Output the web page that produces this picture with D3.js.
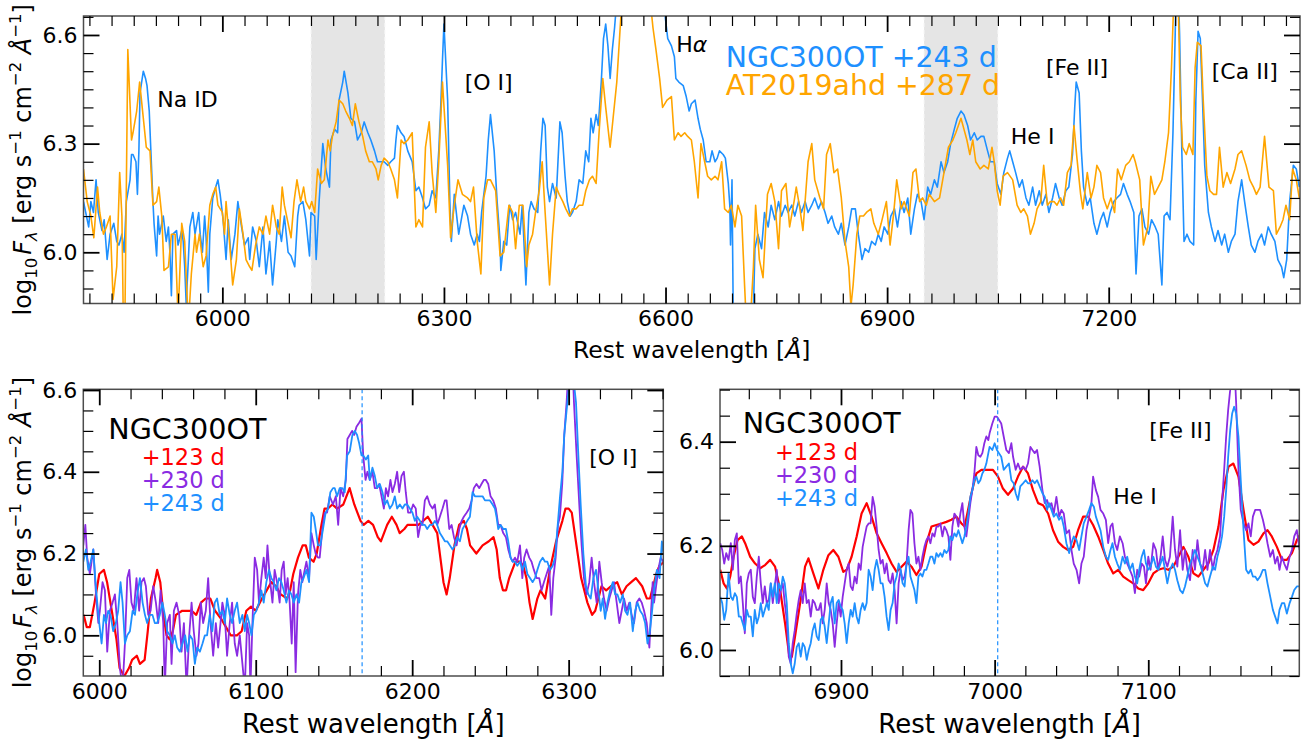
<!DOCTYPE html>
<html>
<head>
<meta charset="utf-8">
<script src="https://cdn.jsdelivr.net/npm/d3@7"></script>
<style>
  body { margin: 0; background: #fff; }
  svg { display: block; font-family: "DejaVu Sans", sans-serif; }
</style>
</head>
<body>
<div id="chart"></div>
<script>
// ---- top panel: NGC300OT vs AT2019ahd, [wavelength (A), log10 flux] ----
const ngcTop243 = [[5812,6.14],[5819,6.07],[5822,6.14],[5825.5,6.11],[5829,6.20],[5832,6.11],[5837,6.06],[5840,6.09],[5844,5.98],[5848,6.05],[5853,6.08],[5857,6.03],[5860,6.02],[5864,6.05],[5867,6.00],[5870,6.14],[5875,6.20],[5877,6.27],[5879,6.27],[5883,6.25],[5885,6.16],[5887,6.28],[5888.5,6.44],[5893,6.50],[5896,6.48],[5898,6.46],[5901,6.39],[5903,6.29],[5906,6.14],[5907.5,6.08],[5911,5.99],[5913,6.10],[5915,6.05],[5920,6.10],[5924,6.03],[5927,6.07],[5929,6.00],[5931,5.88],[5933,6.05],[5938,6.06],[5940,6.02],[5945,6.06],[5947,6.03],[5949,5.96],[5951,5.86],[5954,5.98],[5956,6.07],[5960,6.11],[5963,6.05],[5968,6.11],[5970,6.05],[5973,6.00],[5976,6.10],[5978,6.04],[5981,5.89],[5983,6.05],[5987,6.15],[5991,6.18],[5994,6.20],[5997,6.16],[6001,6.09],[6005,5.98],[6008,6.09],[6012,5.98],[6017,6.05],[6021,6.14],[6026,6.07],[6030,6.02],[6035,6.04],[6037,5.98],[6041,6.07],[6046,6.03],[6050,5.96],[6055,6.07],[6059,5.94],[6064,6.03],[6068,5.91],[6073,6.03],[6075,6.09],[6080,6.03],[6084,6.10],[6089,6.00],[6093,5.99],[6098,5.96],[6102,6.10],[6104,6.13],[6109,6.14],[6113,6.09],[6118,5.99],[6120,6.11],[6125,6.10],[6127,5.98],[6131,6.14],[6136,6.30],[6140,6.23],[6145,6.18],[6147,6.31],[6152,6.34],[6156,6.33],[6158,6.42],[6163,6.47],[6165,6.50],[6170,6.44],[6174,6.37],[6179,6.36],[6183,6.31],[6188,6.33],[6192,6.36],[6197,6.33],[6201,6.31],[6206,6.28],[6210,6.25],[6215,6.25],[6219,6.25],[6224,6.24],[6228,6.25],[6233,6.26],[6235,6.31],[6237,6.35],[6242,6.33],[6246,6.32],[6251,6.28],[6255,6.26],[6257,6.25],[6262,6.17],[6266,6.18],[6271,6.15],[6275,6.12],[6280,6.13],[6284,6.17],[6289,6.15],[6293,6.28],[6296,6.42],[6298,6.53],[6300,6.63],[6305,6.42],[6308,6.14],[6310,6.03],[6314,6.16],[6320,6.05],[6327,6.13],[6332,6.10],[6336,6.05],[6341,6.02],[6345,6.05],[6348,6.03],[6351,6.11],[6357,6.21],[6360,6.31],[6363,6.38],[6368,6.28],[6372,6.14],[6376,6.03],[6377,5.95],[6381,6.03],[6385,6.02],[6389,6.13],[6393,6.09],[6397,6.11],[6403,6.05],[6406,6.13],[6411,5.91],[6415,6.11],[6418,6.14],[6422,6.12],[6427,6.11],[6431,6.28],[6434,6.37],[6437,6.35],[6440,6.18],[6443,6.14],[6447,6.19],[6452,6.15],[6457,6.36],[6460,6.33],[6464,6.21],[6467,6.14],[6471,6.10],[6474,6.11],[6479,6.14],[6483,6.20],[6488,6.19],[6492,6.28],[6496,6.25],[6499,6.37],[6502,6.33],[6506,6.38],[6509,6.35],[6513,6.47],[6516,6.59],[6519,6.63],[6522,6.57],[6525,6.48],[6528,6.56],[6531,6.62],[6535,6.72],[6545,6.9],[6555,7.1],[6565,7.25],[6575,7.1],[6585,6.9],[6595,6.72],[6599,6.66],[6603,6.59],[6608,6.57],[6612,6.54],[6614,6.48],[6618,6.47],[6624,6.46],[6628,6.43],[6632,6.39],[6635,6.41],[6640,6.42],[6644,6.37],[6647,6.34],[6651,6.31],[6655,6.25],[6660,6.25],[6663,6.28],[6667,6.25],[6670,6.26],[6673,6.28],[6678,6.27],[6681,6.26],[6685,6.19],[6687,6.13],[6688,6.02],[6690,6.20],[6692,5.75],[6718,5.75],[6721,6.01],[6725,6.05],[6730,6.01],[6734,6.11],[6739,6.07],[6743,6.13],[6748,6.09],[6753,6.14],[6757,6.10],[6762,6.13],[6766,6.11],[6771,6.13],[6775,6.10],[6780,6.14],[6784,6.11],[6789,6.14],[6793,6.11],[6798,6.13],[6802,6.15],[6807,6.12],[6811,6.14],[6816,6.11],[6820,6.08],[6825,6.10],[6829,6.07],[6834,6.05],[6838,6.08],[6843,6.02],[6848,6.07],[6852,6.12],[6857,6.12],[6861,6.05],[6866,5.98],[6870,6.01],[6875,6.00],[6879,6.03],[6884,6.02],[6888,6.05],[6892,6.03],[6896,6.07],[6901,6.05],[6905,6.10],[6910,6.12],[6914,6.07],[6919,6.14],[6923,6.11],[6928,6.15],[6932,6.05],[6937,6.12],[6941,6.16],[6946,6.14],[6950,6.09],[6955,6.18],[6959,6.16],[6964,6.20],[6968,6.18],[6973,6.25],[6977,6.22],[6982,6.25],[6986,6.30],[6991,6.34],[6995,6.37],[7000,6.39],[7004,6.38],[7009,6.35],[7013,6.31],[7018,6.33],[7022,6.31],[7027,6.32],[7031,6.32],[7036,6.28],[7040,6.25],[7045,6.25],[7049,6.19],[7054,6.16],[7058,6.22],[7063,6.26],[7066,6.28],[7070,6.25],[7074,6.22],[7079,6.18],[7083,6.20],[7088,6.15],[7092,6.13],[7097,6.18],[7101,6.13],[7106,6.17],[7110,6.13],[7115,6.16],[7119,6.11],[7124,6.15],[7128,6.19],[7133,6.15],[7137,6.13],[7142,6.17],[7146,6.18],[7151,6.27],[7154,6.40],[7156,6.47],[7160,6.44],[7163,6.28],[7166,6.18],[7171,6.13],[7175,6.15],[7180,6.08],[7184,6.05],[7189,6.09],[7193,6.11],[7198,6.07],[7202,6.11],[7207,6.14],[7211,6.15],[7216,6.16],[7220,6.19],[7225,6.16],[7229,6.14],[7234,6.11],[7237,5.94],[7241,6.10],[7245,6.12],[7249,6.07],[7254,6.05],[7258,6.09],[7263,6.07],[7267,6.05],[7272,5.91],[7275,6.10],[7279,6.11],[7283,6.09],[7287,6.33],[7290,6.60],[7292,6.80],[7294,6.75],[7296,6.60],[7299,6.28],[7302,6.03],[7306,6.05],[7310,6.03],[7315,6.02],[7318,6.42],[7321,6.61],[7324,6.59],[7327,6.42],[7330,6.24],[7335,6.11],[7339,6.07],[7344,6.03],[7348,6.06],[7353,6.02],[7357,6.05],[7362,6.00],[7366,6.03],[7371,6.05],[7375,6.14],[7380,6.20],[7384,6.14],[7389,6.07],[7393,6.02],[7398,6.00],[7402,6.03],[7407,6.05],[7411,6.02],[7416,6.07],[7420,6.05],[7425,6.03],[7429,5.98],[7434,5.96],[7437,5.93],[7441,5.98],[7445,6.14],[7450,6.24],[7454,6.23],[7458,6.18]];

const atTop287 = [[5812,6.23],[5817,6.14],[5822,6.10],[5826,6.04],[5831,6.18],[5834,6.11],[5839,6.05],[5843,6.07],[5848,6.10],[5852,5.87],[5857,5.96],[5861,6.22],[5864,6.10],[5866,5.80],[5868,5.80],[5872,6.56],[5877,6.31],[5879,6.33],[5884,6.39],[5888,6.47],[5893,6.37],[5897,6.29],[5902,6.28],[5906,6.13],[5911,6.14],[5914,6.18],[5918,6.10],[5921,5.95],[5927,5.96],[5931,6.05],[5936,6.05],[5940,5.82],[5945,6.08],[5949,6.03],[5954,5.80],[5958,5.94],[5963,6.05],[5965,6.00],[5969,6.05],[5974,5.96],[5978,5.99],[5983,6.13],[5987,6.16],[5991,6.18],[5994,6.13],[6000,6.11],[6003,6.05],[6005,6.14],[6010,6.02],[6014,5.91],[6019,5.98],[6023,6.12],[6028,6.05],[6032,5.98],[6037,5.96],[6040,5.95],[6045,6.02],[6050,6.07],[6055,6.05],[6059,6.10],[6064,6.05],[6068,6.13],[6073,6.07],[6077,6.05],[6081,6.18],[6084,6.13],[6089,6.08],[6093,6.04],[6097,6.14],[6101,6.20],[6106,6.14],[6110,6.18],[6113,6.14],[6118,6.12],[6121,6.14],[6125,6.11],[6129,6.23],[6134,6.19],[6138,6.20],[6143,6.31],[6146,6.28],[6149,6.32],[6154,6.36],[6158,6.42],[6163,6.41],[6167,6.39],[6172,6.37],[6176,6.35],[6180,6.41],[6185,6.36],[6190,6.32],[6194,6.28],[6199,6.25],[6203,6.25],[6208,6.23],[6211,6.20],[6215,6.24],[6219,6.26],[6224,6.25],[6228,6.23],[6233,6.20],[6237,6.15],[6242,6.31],[6246,6.30],[6251,6.31],[6257,6.33],[6262,6.07],[6266,6.09],[6271,6.07],[6275,6.29],[6280,6.36],[6284,6.22],[6289,6.11],[6293,6.25],[6298,6.47],[6305,6.24],[6309,6.04],[6314,6.13],[6319,6.20],[6325,6.16],[6332,6.15],[6336,6.14],[6340,6.18],[6345,6.03],[6350,5.94],[6354,6.15],[6359,6.20],[6363,6.20],[6370,6.17],[6376,5.99],[6381,6.00],[6388,6.13],[6393,6.11],[6397,6.01],[6402,6.13],[6407,6.13],[6412,5.96],[6415,6.02],[6420,6.05],[6424,6.11],[6429,6.17],[6433,6.25],[6437,6.11],[6443,5.91],[6447,6.05],[6452,6.18],[6456,6.16],[6461,6.14],[6465,6.12],[6470,6.10],[6474,6.12],[6479,6.12],[6483,6.13],[6488,6.13],[6492,6.17],[6497,6.20],[6501,6.21],[6506,6.19],[6510,6.33],[6515,6.48],[6519,6.40],[6525,6.29],[6529,6.37],[6534,6.47],[6538,6.60],[6541,6.70],[6550,6.85],[6560,7.0],[6570,6.9],[6579,6.70],[6583,6.62],[6587,6.56],[6592,6.48],[6596,6.40],[6602,6.42],[6608,6.43],[6612,6.31],[6617,6.33],[6621,6.32],[6626,6.33],[6630,6.32],[6635,6.31],[6639,6.25],[6644,6.15],[6648,6.30],[6653,6.25],[6657,6.21],[6662,6.20],[6667,6.21],[6671,6.20],[6676,6.25],[6680,6.12],[6685,6.11],[6689,6.13],[6694,6.07],[6698,6.13],[6703,6.10],[6707,5.91],[6710,5.78],[6714,5.78],[6719,5.96],[6722,6.13],[6727,5.98],[6732,5.93],[6738,6.16],[6743,6.19],[6748,6.14],[6753,6.01],[6757,6.17],[6763,6.19],[6768,6.07],[6774,6.14],[6777,6.18],[6782,6.12],[6786,6.06],[6793,6.25],[6798,6.30],[6802,6.20],[6809,6.15],[6814,6.12],[6818,6.27],[6823,6.30],[6828,6.22],[6833,6.23],[6838,6.15],[6843,6.03],[6848,5.96],[6851,5.85],[6854,5.91],[6859,6.05],[6863,6.10],[6868,6.10],[6872,6.11],[6878,6.12],[6882,6.08],[6888,6.05],[6892,6.08],[6899,6.14],[6904,6.02],[6909,6.11],[6913,6.20],[6919,6.12],[6923,6.14],[6930,6.10],[6935,6.22],[6939,6.23],[6944,6.14],[6948,6.15],[6953,6.13],[6957,6.16],[6964,6.14],[6971,6.15],[6977,6.22],[6983,6.29],[6989,6.31],[6993,6.33],[7000,6.37],[7004,6.34],[7008,6.31],[7012,6.27],[7016,6.31],[7020,6.25],[7026,6.23],[7031,6.24],[7037,6.23],[7042,6.29],[7045,6.25],[7049,6.17],[7053,6.13],[7057,6.21],[7063,6.22],[7070,6.20],[7076,6.13],[7081,6.11],[7085,6.12],[7090,6.10],[7094,6.05],[7099,6.08],[7103,6.12],[7108,6.14],[7112,6.24],[7117,6.13],[7121,6.14],[7126,6.14],[7130,6.13],[7135,6.15],[7139,6.13],[7144,6.22],[7149,6.24],[7153,6.35],[7157,6.26],[7162,6.16],[7165,6.12],[7171,6.22],[7176,6.15],[7180,6.18],[7184,6.24],[7189,6.22],[7193,6.15],[7198,6.12],[7203,6.15],[7208,6.11],[7212,6.23],[7217,6.20],[7223,6.24],[7228,6.25],[7233,6.27],[7236,6.25],[7242,6.20],[7247,6.02],[7253,6.07],[7257,6.21],[7262,6.16],[7267,6.18],[7272,6.20],[7276,6.25],[7281,6.33],[7285,6.51],[7289,6.75],[7293,6.80],[7297,6.42],[7300,6.29],[7305,6.27],[7309,6.30],[7314,6.27],[7317,6.51],[7320,6.58],[7325,6.57],[7328,6.42],[7333,6.21],[7337,6.17],[7342,6.16],[7346,6.16],[7350,6.29],[7355,6.18],[7360,6.22],[7365,6.19],[7371,6.23],[7375,6.27],[7380,6.28],[7386,6.24],[7391,6.20],[7396,6.18],[7400,6.16],[7405,6.18],[7411,6.32],[7417,6.18],[7423,6.17],[7427,6.05],[7432,6.07],[7436,6.09],[7440,6.13],[7445,6.09],[7449,6.23],[7454,6.20],[7458,6.15]];

// ---- bottom-left panel ([O I] region), NGC300OT epochs ----
const oiRed123 = [[5990,6.05],[5992,6.02],[5994,6.02],[5997,6.08],[6000,6.15],[6003,6.16],[6005,6.13],[6008,6.06],[6011,5.99],[6013,5.92],[6016,5.90],[6019,5.92],[6021,5.94],[6024,5.95],[6026,5.93],[6029,5.94],[6031,6.01],[6033,6.09],[6036,6.14],[6037,6.16],[6039,6.13],[6041,6.05],[6043,6.00],[6045,5.99],[6047,6.01],[6049,6.05],[6053,6.06],[6056,6.06],[6059,6.06],[6062,6.05],[6065,6.08],[6068,6.09],[6071,6.09],[6074,6.06],[6078,6.04],[6081,6.02],[6084,6.00],[6088,6.00],[6091,6.01],[6094,6.06],[6097,6.07],[6100,6.06],[6104,6.09],[6107,6.11],[6110,6.13],[6113,6.12],[6116,6.10],[6120,6.09],[6122,6.11],[6124,6.15],[6127,6.19],[6130,6.22],[6132,6.22],[6134,6.19],[6137,6.18],[6139,6.20],[6142,6.27],[6144,6.31],[6146,6.31],[6149,6.32],[6152,6.31],[6156,6.32],[6160,6.36],[6163,6.32],[6167,6.28],[6169,6.27],[6172,6.28],[6175,6.27],[6178,6.24],[6180,6.23],[6184,6.27],[6187,6.29],[6190,6.27],[6192,6.25],[6195,6.26],[6197,6.27],[6201,6.27],[6204,6.27],[6207,6.28],[6210,6.29],[6213,6.27],[6216,6.25],[6218,6.19],[6220,6.13],[6222,6.10],[6224,6.14],[6227,6.22],[6230,6.27],[6233,6.28],[6235,6.26],[6237,6.22],[6241,6.20],[6245,6.22],[6249,6.23],[6252,6.24],[6254,6.21],[6256,6.14],[6258,6.11],[6260,6.11],[6262,6.14],[6266,6.18],[6269,6.18],[6271,6.17],[6273,6.14],[6275,6.08],[6277,6.04],[6280,6.09],[6282,6.11],[6285,6.09],[6288,6.16],[6292,6.23],[6296,6.28],[6298,6.31],[6300,6.31],[6302,6.30],[6305,6.22],[6308,6.14],[6312,6.08],[6315,6.05],[6317,6.06],[6319,6.09],[6321,6.12],[6324,6.11],[6327,6.12],[6331,6.13],[6334,6.10],[6337,6.12],[6340,6.13],[6343,6.14],[6347,6.12],[6350,6.09],[6352,6.09],[6354,6.12],[6356,6.15],[6358,6.17],[6361,6.18]];

const oiPurple230 = [[5989.8,6.22],[5991.1,6.27],[5992.3,6.19],[5994.0,6.15],[5996.2,6.21],[5997.9,6.10],[5999.4,6.03],[6000.4,6.06],[6002.1,6.13],[6003.6,6.11],[6005.1,5.96],[6006.8,6.06],[6008.5,6.08],[6010.0,6.10],[6011.5,6.03],[6013.2,5.92],[6014.9,5.87],[6016.4,5.98],[6017.9,6.14],[6019.2,6.16],[6020.6,6.08],[6022.1,6.06],[6023.8,6.14],[6025.5,6.06],[6027.0,6.13],[6028.5,6.14],[6029.8,6.12],[6031.3,6.05],[6032.8,6.06],[6034.5,6.12],[6036.2,6.08],[6037.7,6.03],[6039.2,6.11],[6040.9,6.03],[6041.9,5.87],[6043.4,6.03],[6045.1,6.05],[6046.2,5.93],[6047.7,6.06],[6049.4,6.08],[6051.1,6.05],[6052.6,5.96],[6054.1,6.03],[6055.8,5.87],[6057.5,6.00],[6059.0,6.08],[6060.4,6.01],[6062.1,5.95],[6063.4,5.98],[6064.9,6.08],[6066.4,6.03],[6068.1,6.06],[6069.6,6.14],[6071.1,6.03],[6072.8,5.95],[6074.5,6.03],[6076.0,5.97],[6077.5,6.03],[6078.7,6.08],[6080.2,6.05],[6081.7,5.95],[6083.4,6.03],[6084.9,6.08],[6086.6,5.98],[6088.1,5.95],[6089.8,6.00],[6091.5,5.93],[6093.0,5.87],[6094.5,6.03],[6095.8,6.00],[6096.6,5.87],[6097.9,6.03],[6099.4,6.19],[6100.9,6.16],[6102.1,6.08],[6103.6,6.14],[6105.1,6.19],[6106.4,6.14],[6107.5,6.22],[6109.0,6.14],[6110.7,6.08],[6112.1,6.16],[6113.6,6.13],[6115.3,6.08],[6116.6,6.16],[6117.9,6.18],[6119.1,6.10],[6120.4,6.14],[6121.7,6.08],[6123.0,5.98],[6124.3,6.13],[6125.5,5.91],[6127.0,6.10],[6128.5,6.16],[6129.8,6.13],[6131.3,6.16],[6132.4,6.18],[6134.1,6.14],[6135.6,6.25],[6137.1,6.22],[6138.3,6.20],[6139.8,6.19],[6140.9,6.19],[6142.6,6.26],[6144.1,6.30],[6145.6,6.30],[6147.3,6.34],[6149.4,6.32],[6151.2,6.34],[6152.7,6.27],[6154.2,6.36],[6155.9,6.34],[6157.6,6.38],[6158.6,6.48],[6160.1,6.49],[6161.6,6.50],[6162.9,6.49],[6164.4,6.51],[6166.1,6.52],[6167.6,6.53],[6168.7,6.44],[6170.2,6.38],[6171.4,6.40],[6172.9,6.38],[6174.6,6.40],[6176.1,6.36],[6177.6,6.36],[6178.9,6.37],[6180.4,6.34],[6181.9,6.31],[6183.2,6.36],[6184.6,6.34],[6186.1,6.38],[6187.4,6.35],[6188.9,6.37],[6190.4,6.40],[6191.7,6.35],[6193.2,6.39],[6194.7,6.40],[6195.9,6.35],[6197.4,6.30],[6198.9,6.30],[6200.6,6.32],[6202.3,6.31],[6203.8,6.24],[6205.3,6.27],[6206.6,6.27],[6208.1,6.33],[6209.6,6.34],[6211.3,6.32],[6213.0,6.31],[6214.5,6.32],[6216.0,6.27],[6217.7,6.29],[6219.4,6.31],[6220.9,6.33],[6222.0,6.33],[6223.7,6.26],[6225.2,6.27],[6226.7,6.24],[6228.4,6.22],[6230.1,6.26],[6231.6,6.28],[6233.0,6.29],[6234.8,6.30],[6236.5,6.31],[6238.0,6.33],[6239.4,6.36],[6241.1,6.37],[6242.9,6.36],[6244.3,6.37],[6245.8,6.38],[6247.1,6.38],[6248.6,6.37],[6250.1,6.34],[6251.8,6.33],[6253.5,6.31],[6255.0,6.27],[6256.5,6.27],[6258.2,6.25],[6259.9,6.24],[6261.4,6.21],[6262.9,6.19],[6264.2,6.18],[6265.7,6.19],[6267.2,6.18],[6268.9,6.22],[6270.4,6.14],[6271.6,6.19],[6273.1,6.21],[6274.8,6.19],[6276.3,6.18],[6277.8,6.16],[6279.5,6.14],[6281.2,6.14],[6282.7,6.11],[6284.2,6.13],[6285.9,6.15],[6287.6,6.17],[6288.9,6.05],[6290.2,6.14],[6291.7,6.19],[6293.2,6.27],[6294.4,6.29],[6295.9,6.37],[6297.2,6.49],[6298.7,6.57],[6300.0,6.66],[6301.3,6.70],[6302.5,6.66],[6303.4,6.57],[6305.1,6.44],[6306.8,6.32],[6308.3,6.22],[6309.8,6.14],[6311.5,6.10],[6313.2,6.13],[6314.7,6.19],[6316.2,6.13],[6317.9,6.08],[6319.6,6.18],[6321.1,6.13],[6322.6,6.09],[6324.3,6.06],[6326.0,6.09],[6327.5,6.11],[6329.0,6.13],[6330.7,6.08],[6332.4,6.03],[6333.9,6.06],[6335.4,6.09],[6337.1,6.06],[6338.8,6.08],[6340.3,6.05],[6341.8,6.03],[6343.5,6.08],[6345.2,6.09],[6346.7,6.08],[6348.2,6.06],[6349.9,6.03],[6351.6,5.97],[6352.7,6.06],[6353.7,6.13],[6354.6,6.08],[6355.9,6.12],[6357.3,6.16],[6358.8,6.19],[6360.5,6.18]];

const oiBlue243 = [[5989.8,6.18],[5991.5,6.21],[5993.0,6.16],[5994.5,6.18],[5996.2,6.21],[5997.4,6.14],[5998.7,6.08],[6000.0,6.03],[6001.5,5.98],[6003.0,6.05],[6004.3,6.03],[6005.7,6.06],[6007.2,6.05],[6008.9,6.01],[6010.6,6.03],[6012.1,6.06],[6013.6,6.13],[6014.9,6.08],[6016.4,5.98],[6017.9,6.00],[6019.6,6.01],[6021.3,6.06],[6022.8,6.05],[6024.3,6.10],[6026.0,6.14],[6027.7,6.08],[6029.2,6.05],[6030.6,6.03],[6032.3,6.05],[6034.0,6.05],[6035.5,6.03],[6037.0,6.03],[6038.7,6.05],[6040.4,6.08],[6041.9,6.05],[6043.4,6.01],[6045.1,6.00],[6046.8,5.98],[6048.3,6.00],[6049.8,5.97],[6051.5,5.96],[6053.2,5.98],[6054.9,6.00],[6056.4,5.96],[6057.9,6.00],[6059.6,5.99],[6061.1,5.93],[6062.6,5.97],[6064.3,5.96],[6066.0,5.98],[6067.5,6.00],[6068.9,6.00],[6070.6,6.05],[6072.3,6.01],[6073.8,6.08],[6075.3,6.09],[6077.0,6.05],[6078.7,6.06],[6080.2,6.03],[6081.7,6.09],[6083.4,6.05],[6084.9,6.03],[6086.6,6.06],[6088.1,6.08],[6089.8,6.03],[6091.5,6.05],[6093.0,6.01],[6094.5,6.05],[6095.8,6.03],[6097.3,6.00],[6098.8,6.05],[6100.4,6.06],[6102.1,6.08],[6103.6,6.11],[6105.1,6.08],[6106.8,6.13],[6108.5,6.16],[6110.0,6.14],[6111.5,6.13],[6113.2,6.11],[6114.9,6.14],[6116.4,6.13],[6117.9,6.11],[6119.6,6.08],[6121.3,6.11],[6122.8,6.10],[6124.3,6.08],[6126.0,6.10],[6127.7,6.08],[6129.2,6.13],[6130.6,6.14],[6132.4,6.16],[6134.1,6.13],[6135.6,6.30],[6137.1,6.29],[6138.3,6.26],[6139.8,6.22],[6141.3,6.22],[6143.0,6.26],[6144.7,6.30],[6146.2,6.31],[6147.7,6.35],[6149.4,6.36],[6150.5,6.36],[6152.0,6.34],[6153.7,6.36],[6155.4,6.36],[6156.9,6.35],[6158.4,6.44],[6160.1,6.45],[6161.8,6.49],[6163.3,6.50],[6164.8,6.49],[6166.1,6.47],[6167.6,6.44],[6168.7,6.44],[6170.4,6.43],[6171.9,6.44],[6172.9,6.38],[6174.6,6.41],[6176.1,6.39],[6177.6,6.36],[6179.3,6.37],[6181.0,6.35],[6182.5,6.32],[6184.0,6.33],[6185.7,6.31],[6187.4,6.32],[6188.9,6.34],[6190.4,6.31],[6192.1,6.32],[6193.8,6.31],[6195.3,6.32],[6196.8,6.32],[6198.5,6.31],[6200.2,6.30],[6201.7,6.28],[6203.2,6.29],[6204.9,6.28],[6206.6,6.27],[6208.1,6.27],[6209.6,6.26],[6211.3,6.27],[6213.0,6.27],[6214.5,6.28],[6216.0,6.27],[6217.7,6.25],[6219.4,6.24],[6220.9,6.23],[6222.4,6.23],[6224.1,6.22],[6225.8,6.21],[6227.3,6.22],[6228.8,6.24],[6230.5,6.23],[6232.2,6.26],[6233.7,6.27],[6235.2,6.28],[6236.9,6.29],[6238.6,6.35],[6240.1,6.34],[6241.6,6.34],[6243.3,6.34],[6245.0,6.34],[6246.5,6.33],[6248.0,6.33],[6249.7,6.33],[6251.4,6.32],[6252.9,6.31],[6253.9,6.29],[6255.0,6.26],[6256.5,6.27],[6258.2,6.26],[6259.9,6.26],[6261.4,6.23],[6262.9,6.19],[6264.2,6.18],[6265.7,6.18],[6267.2,6.17],[6268.9,6.18],[6270.6,6.16],[6272.1,6.18],[6273.6,6.15],[6275.3,6.14],[6277.0,6.13],[6278.5,6.14],[6280.0,6.16],[6281.7,6.18],[6283.4,6.19],[6284.9,6.18],[6286.4,6.18],[6288.1,6.16],[6289.8,6.17],[6291.3,6.19],[6292.8,6.26],[6294.5,6.34],[6296.0,6.40],[6297.2,6.49],[6298.7,6.55],[6300.0,6.60],[6301.3,6.66],[6303.0,6.63],[6304.7,6.57],[6306.2,6.44],[6307.7,6.32],[6309.4,6.20],[6311.1,6.12],[6312.6,6.10],[6314.1,6.09],[6315.8,6.14],[6317.5,6.16],[6319.0,6.11],[6320.5,6.06],[6321.8,6.09],[6323.3,6.04],[6324.8,6.08],[6326.5,6.11],[6328.2,6.13],[6329.7,6.10],[6331.2,6.10],[6332.9,6.08],[6334.6,6.10],[6336.1,6.06],[6337.6,6.05],[6339.3,6.08],[6341.0,6.01],[6342.5,6.06],[6344.0,6.08],[6345.7,6.06],[6347.4,6.05],[6348.9,6.03],[6350.4,5.98],[6351.6,6.00],[6353.1,6.05],[6354.6,6.11],[6356.4,6.16],[6358.1,6.14],[6359.6,6.23],[6360.6,6.20]];

// ---- bottom-right panel ([Fe II] / He I region) ----
const feRed123 = [[6821.4,6.154],[6823.6,6.128],[6825.7,6.118],[6827.9,6.141],[6830.1,6.179],[6832.7,6.211],[6835.5,6.218],[6837.6,6.205],[6840.9,6.179],[6844.1,6.166],[6847.4,6.157],[6850.6,6.163],[6853.9,6.173],[6857.1,6.160],[6860.4,6.115],[6863.6,6.051],[6866.4,5.987],[6868.0,5.987],[6870.1,6.026],[6873.4,6.090],[6876.6,6.160],[6878.8,6.176],[6882.0,6.147],[6885.3,6.118],[6888.5,6.154],[6891.8,6.182],[6895.0,6.192],[6898.3,6.179],[6901.5,6.150],[6903.7,6.154],[6906.9,6.179],[6910.2,6.218],[6913.4,6.262],[6916.7,6.282],[6919.9,6.256],[6923.2,6.224],[6926.4,6.205],[6929.7,6.186],[6932.9,6.166],[6936.2,6.150],[6939.4,6.160],[6942.7,6.170],[6945.9,6.160],[6949.1,6.144],[6952.4,6.160],[6955.6,6.205],[6958.9,6.237],[6962.1,6.240],[6965.4,6.243],[6968.6,6.246],[6971.9,6.250],[6975.1,6.256],[6978.4,6.243],[6980.5,6.237],[6982.7,6.269],[6984.9,6.301],[6988.1,6.339],[6991.4,6.346],[6996.8,6.346],[6998.9,6.346],[7002.2,6.333],[7005.4,6.310],[7008.7,6.298],[7012.0,6.310],[7015.2,6.333],[7018.5,6.352],[7021.7,6.339],[7025.0,6.307],[7028.3,6.282],[7031.5,6.278],[7034.8,6.262],[7038.0,6.230],[7041.3,6.208],[7044.6,6.198],[7047.8,6.192],[7051.1,6.198],[7054.3,6.230],[7057.6,6.256],[7060.9,6.256],[7064.1,6.240],[7067.4,6.218],[7070.7,6.192],[7073.9,6.166],[7077.2,6.147],[7080.4,6.154],[7083.7,6.141],[7087.0,6.134],[7090.2,6.128],[7093.5,6.118],[7096.7,6.115],[7100.0,6.128],[7103.3,6.147],[7106.5,6.154],[7109.8,6.157],[7113.0,6.154],[7116.3,6.160],[7119.6,6.179],[7122.8,6.198],[7126.1,6.179],[7129.4,6.147],[7132.6,6.141],[7135.9,6.154],[7139.1,6.166],[7142.4,6.192],[7145.7,6.237],[7148.9,6.307],[7152.2,6.352],[7155.4,6.358],[7158.7,6.333],[7162.0,6.269],[7165.2,6.211],[7168.5,6.202],[7171.7,6.208],[7175.0,6.224],[7177.6,6.230],[7180.4,6.218],[7183.7,6.198],[7187.0,6.173],[7190.2,6.173],[7193.5,6.186],[7196.7,6.211],[7198.5,6.22]];

const fePurple230 = [[6821.4,6.205],[6822.7,6.192],[6824.0,6.166],[6825.3,6.186],[6826.8,6.173],[6828.3,6.205],[6829.6,6.154],[6830.9,6.211],[6832.2,6.224],[6833.5,6.128],[6834.8,6.141],[6836.1,6.090],[6837.4,6.032],[6838.7,6.128],[6840.0,6.147],[6841.3,6.154],[6842.6,6.102],[6843.9,6.090],[6845.2,6.141],[6846.5,6.179],[6847.8,6.128],[6849.1,6.090],[6850.4,6.122],[6851.7,6.090],[6853.0,6.096],[6854.3,6.128],[6855.6,6.090],[6856.9,6.122],[6858.2,6.154],[6859.5,6.090],[6860.8,6.115],[6862.1,6.128],[6863.4,6.090],[6864.7,6.058],[6866.0,5.987],[6867.3,5.974],[6868.6,6.013],[6869.9,6.038],[6871.2,6.070],[6872.5,6.096],[6873.8,6.115],[6875.1,6.090],[6876.4,6.128],[6877.7,6.090],[6879.0,6.096],[6880.3,6.064],[6881.6,6.096],[6882.9,6.090],[6884.2,6.077],[6885.5,6.077],[6886.8,6.090],[6888.1,6.051],[6889.4,6.077],[6890.7,6.128],[6892.0,6.090],[6893.3,6.077],[6894.6,6.051],[6895.9,6.006],[6897.2,6.051],[6898.5,6.090],[6899.8,6.064],[6901.1,6.102],[6902.4,6.128],[6903.7,6.154],[6905.0,6.166],[6906.3,6.122],[6907.6,6.115],[6908.9,6.141],[6910.2,6.128],[6911.5,6.166],[6912.8,6.154],[6914.1,6.198],[6915.4,6.218],[6916.7,6.237],[6918.0,6.243],[6919.3,6.243],[6920.6,6.294],[6921.9,6.275],[6923.2,6.237],[6924.5,6.192],[6925.8,6.166],[6927.1,6.173],[6928.4,6.147],[6929.7,6.166],[6931.0,6.134],[6932.3,6.128],[6933.6,6.147],[6934.9,6.115],[6936.2,6.051],[6937.5,6.128],[6938.8,6.154],[6940.1,6.134],[6941.4,6.141],[6942.7,6.166],[6944.0,6.230],[6945.2,6.269],[6946.5,6.262],[6947.8,6.205],[6949.1,6.166],[6950.4,6.179],[6951.7,6.154],[6953.0,6.179],[6954.3,6.198],[6955.6,6.211],[6956.9,6.218],[6958.2,6.205],[6959.5,6.224],[6960.8,6.218],[6962.1,6.237],[6963.4,6.237],[6964.7,6.243],[6966.0,6.218],[6967.3,6.237],[6968.6,6.230],[6969.9,6.218],[6971.2,6.173],[6972.5,6.237],[6973.8,6.262],[6975.1,6.256],[6976.4,6.237],[6977.7,6.262],[6979.0,6.282],[6980.3,6.237],[6981.6,6.218],[6982.9,6.250],[6984.2,6.282],[6985.5,6.307],[6986.8,6.339],[6988.1,6.390],[6989.4,6.374],[6990.7,6.371],[6992.0,6.378],[6993.3,6.397],[6994.6,6.410],[6995.9,6.403],[6996.7,6.416],[6998.5,6.435],[7000.0,6.448],[7001.5,6.448],[7002.8,6.442],[7004.3,6.435],[7005.9,6.410],[7007.6,6.384],[7009.3,6.378],[7010.9,6.397],[7012.0,6.371],[7013.7,6.346],[7015.2,6.358],[7016.7,6.346],[7018.5,6.352],[7020.2,6.346],[7021.7,6.358],[7023.3,6.390],[7024.6,6.384],[7026.1,6.378],[7027.6,6.384],[7029.3,6.352],[7031.1,6.307],[7032.6,6.282],[7034.1,6.288],[7035.4,6.275],[7037.0,6.282],[7038.5,6.262],[7040.2,6.294],[7042.0,6.256],[7043.5,6.269],[7045.0,6.262],[7046.7,6.224],[7048.5,6.230],[7050.0,6.192],[7051.5,6.166],[7053.3,6.154],[7055.0,6.128],[7056.5,6.166],[7058.0,6.179],[7059.8,6.230],[7061.5,6.256],[7063.0,6.282],[7064.1,6.333],[7065.9,6.307],[7067.4,6.294],[7068.9,6.269],[7070.7,6.262],[7072.4,6.250],[7073.9,6.205],[7075.4,6.237],[7076.7,6.243],[7078.3,6.205],[7079.8,6.192],[7081.5,6.218],[7083.3,6.205],[7084.8,6.179],[7086.3,6.166],[7088.0,6.154],[7089.8,6.141],[7091.3,6.109],[7092.8,6.154],[7094.1,6.141],[7095.7,6.166],[7097.2,6.160],[7098.5,6.128],[7100.0,6.179],[7101.5,6.154],[7103.3,6.205],[7105.0,6.192],[7106.5,6.154],[7108.0,6.179],[7109.4,6.218],[7110.9,6.173],[7112.4,6.160],[7114.1,6.179],[7115.9,6.256],[7117.4,6.192],[7118.9,6.160],[7120.7,6.230],[7122.4,6.154],[7123.9,6.192],[7125.4,6.154],[7127.2,6.134],[7128.9,6.192],[7130.4,6.154],[7132.0,6.211],[7133.7,6.166],[7135.4,6.154],[7137.0,6.192],[7138.5,6.154],[7140.2,6.192],[7142.0,6.154],[7143.5,6.179],[7145.0,6.192],[7146.7,6.218],[7148.0,6.282],[7149.4,6.346],[7150.7,6.410],[7152.0,6.461],[7153.3,6.499],[7154.6,6.56],[7155.9,6.56],[7157.2,6.474],[7158.7,6.346],[7160.2,6.269],[7162.0,6.243],[7163.7,6.230],[7165.2,6.243],[7166.7,6.218],[7168.1,6.256],[7169.6,6.269],[7171.1,6.269],[7172.8,6.269],[7174.6,6.250],[7176.1,6.230],[7177.6,6.205],[7179.4,6.179],[7181.1,6.192],[7182.6,6.166],[7184.1,6.179],[7185.4,6.154],[7187.0,6.179],[7188.5,6.166],[7190.2,6.154],[7192.0,6.179],[7193.5,6.192],[7195.0,6.218],[7196.7,6.230],[7198.5,6.192]];

const feBlue243 = [[6821.4,6.102],[6822.7,6.090],[6824.0,6.058],[6825.3,6.077],[6826.8,6.147],[6828.3,6.102],[6829.6,6.096],[6830.9,6.109],[6832.2,6.102],[6833.5,6.064],[6834.8,6.064],[6836.1,6.051],[6837.4,6.038],[6838.7,6.077],[6840.0,6.064],[6841.3,6.064],[6842.6,6.026],[6843.9,6.077],[6845.2,6.051],[6846.5,6.064],[6847.8,6.090],[6849.1,6.064],[6850.4,6.077],[6851.7,6.090],[6853.0,6.077],[6854.3,6.128],[6855.6,6.102],[6856.9,6.128],[6858.2,6.090],[6859.5,6.128],[6860.8,6.115],[6862.1,6.141],[6863.4,6.128],[6864.7,6.090],[6866.0,6.013],[6867.3,5.974],[6868.6,5.955],[6869.9,5.974],[6871.2,6.006],[6872.5,6.013],[6873.8,5.987],[6875.1,6.013],[6876.4,6.006],[6877.7,5.981],[6879.0,6.000],[6880.3,6.013],[6881.6,6.038],[6882.9,6.051],[6884.2,6.026],[6885.5,6.019],[6886.8,6.058],[6888.1,6.064],[6889.4,6.045],[6890.7,6.013],[6892.0,6.051],[6893.3,6.090],[6894.6,6.102],[6895.9,6.051],[6897.2,6.090],[6898.5,6.096],[6899.8,6.083],[6901.1,6.077],[6902.4,6.051],[6903.7,6.013],[6905.0,6.051],[6906.3,6.077],[6907.6,6.064],[6908.9,6.090],[6910.2,6.064],[6911.5,6.051],[6912.8,6.077],[6914.1,6.090],[6915.4,6.077],[6916.7,6.090],[6918.0,6.154],[6919.3,6.141],[6920.6,6.115],[6921.9,6.154],[6923.2,6.173],[6924.5,6.154],[6925.8,6.128],[6927.1,6.128],[6928.4,6.102],[6929.7,6.064],[6931.0,6.038],[6932.3,6.077],[6933.6,6.090],[6934.9,6.128],[6936.2,6.141],[6937.5,6.166],[6938.8,6.154],[6940.1,6.128],[6941.4,6.122],[6942.7,6.166],[6944.0,6.179],[6945.2,6.141],[6946.5,6.128],[6947.8,6.115],[6949.1,6.090],[6950.4,6.141],[6951.7,6.147],[6953.0,6.141],[6954.3,6.154],[6955.6,6.154],[6956.9,6.166],[6958.2,6.179],[6959.5,6.179],[6960.8,6.166],[6962.1,6.186],[6963.4,6.179],[6964.7,6.186],[6966.0,6.179],[6967.3,6.192],[6968.6,6.186],[6969.9,6.192],[6971.2,6.218],[6972.5,6.211],[6973.8,6.224],[6975.1,6.218],[6976.4,6.230],[6977.7,6.218],[6979.0,6.205],[6980.3,6.218],[6981.6,6.237],[6982.9,6.262],[6984.2,6.294],[6985.5,6.307],[6986.8,6.326],[6988.1,6.333],[6989.4,6.320],[6990.7,6.326],[6992.0,6.339],[6993.3,6.346],[6994.6,6.358],[6995.9,6.378],[6996.7,6.390],[6998.5,6.384],[7000.0,6.397],[7001.5,6.384],[7002.8,6.378],[7004.3,6.371],[7005.9,6.346],[7007.6,6.352],[7009.3,6.358],[7010.9,6.326],[7012.4,6.320],[7013.7,6.301],[7015.2,6.288],[7016.7,6.314],[7018.5,6.320],[7020.2,6.326],[7021.7,6.320],[7023.3,6.320],[7024.6,6.326],[7026.1,6.320],[7027.6,6.326],[7029.3,6.314],[7031.1,6.301],[7032.6,6.294],[7034.1,6.269],[7035.4,6.282],[7037.0,6.269],[7038.5,6.256],[7040.2,6.262],[7042.0,6.250],[7043.5,6.256],[7045.0,6.237],[7046.7,6.205],[7048.5,6.186],[7050.0,6.205],[7051.5,6.218],[7053.3,6.211],[7055.0,6.192],[7056.5,6.218],[7058.0,6.243],[7059.8,6.256],[7061.5,6.269],[7063.0,6.282],[7064.6,6.275],[7065.9,6.256],[7067.4,6.243],[7068.9,6.230],[7070.7,6.198],[7072.4,6.179],[7073.9,6.173],[7075.4,6.192],[7076.7,6.205],[7078.3,6.179],[7079.8,6.166],[7081.5,6.154],[7083.3,6.179],[7084.8,6.166],[7086.3,6.179],[7088.0,6.154],[7089.8,6.166],[7091.3,6.141],[7092.8,6.128],[7094.1,6.154],[7095.7,6.179],[7097.2,6.192],[7098.5,6.166],[7100.0,6.154],[7101.5,6.160],[7103.3,6.179],[7105.0,6.160],[7106.5,6.154],[7108.0,6.166],[7109.4,6.179],[7110.9,6.154],[7112.4,6.128],[7114.1,6.154],[7115.9,6.166],[7117.4,6.154],[7118.9,6.134],[7120.7,6.115],[7122.4,6.109],[7123.9,6.122],[7125.4,6.141],[7127.2,6.166],[7128.9,6.179],[7130.4,6.192],[7132.0,6.179],[7133.7,6.166],[7135.4,6.147],[7137.0,6.128],[7138.5,6.122],[7140.2,6.141],[7142.0,6.160],[7143.5,6.154],[7145.0,6.179],[7146.7,6.198],[7148.0,6.218],[7149.4,6.256],[7150.7,6.307],[7152.0,6.371],[7153.3,6.422],[7154.6,6.454],[7155.9,6.467],[7157.2,6.454],[7158.7,6.410],[7160.2,6.326],[7162.0,6.230],[7163.7,6.154],[7165.2,6.147],[7166.7,6.154],[7168.1,6.141],[7169.6,6.141],[7171.1,6.134],[7172.8,6.141],[7174.6,6.154],[7176.1,6.154],[7177.6,6.128],[7179.4,6.102],[7181.1,6.077],[7182.6,6.064],[7184.1,6.051],[7185.4,6.077],[7187.0,6.090],[7188.5,6.090],[7190.2,6.070],[7192.0,6.090],[7193.5,6.102],[7195.0,6.115],[7196.7,6.122],[7198.5,6.122]];

// ---- ticks, bands, markers, labels ----
const topXTicks = [6000, 6300, 6600, 6900, 7200];
const topYTicks = [6.0, 6.3, 6.6];
const oiXTicks = [6000, 6100, 6200, 6300];
const oiYTicks = [6.0, 6.2, 6.4, 6.6];
const feXTicks = [6900, 7000, 7100];
const feYTicks = [6.0, 6.2, 6.4];
const shadeBands = [[6120, 6220], [6950, 7050]];
const oiMarker = 6168;
const feMarker = 7002;
const epochLabels = ["+123 d", "+230 d", "+243 d"];

const COL = { blue: "#1e90ff", orange: "#ffa500", red: "#ff0000", purple: "#8a2be2" };
const FONT = "DejaVu Sans";

const svg = d3.select("#chart").append("svg").attr("width", 1312).attr("height", 742);

function minorTicks(dom, step, majors) {
  const lo = Math.ceil(dom[0] / step - 1e-6), hi = Math.floor(dom[1] / step + 1e-6);
  return d3.range(lo, hi + 1).map(i => +(i * step).toFixed(4))
    .filter(v => !majors.some(m => Math.abs(m - v) < 1e-6));
}

function styleAxis(sel, width) {
  sel.select(".domain").remove();
  sel.selectAll(".tick line").attr("stroke", "#000").attr("stroke-width", width);
  sel.attr("font-family", FONT).attr("font-size", 22);
  sel.selectAll(".tick text").attr("fill", "#000");
}

function drawPanel(p) {
  const b = p.box;
  const x = d3.scaleLinear().domain(p.xDomain).range([b.left, b.right]);
  const y = d3.scaleLinear().domain(p.yDomain).range([b.bottom, b.top]);
  const g = svg.append("g");
  const clipId = "clip-" + p.id;
  svg.append("clipPath").attr("id", clipId).append("rect")
    .attr("x", b.left).attr("y", b.top).attr("width", b.right - b.left).attr("height", b.bottom - b.top);
  const plot = g.append("g").attr("clip-path", `url(#${clipId})`);

  (p.bands || []).forEach(([a, c]) => {
    plot.append("rect").attr("x", x(a)).attr("y", b.top).attr("width", x(c) - x(a))
      .attr("height", b.bottom - b.top).attr("fill", "#e5e5e5");
    [a, c].forEach(v => plot.append("line").attr("x1", x(v)).attr("x2", x(v))
      .attr("y1", b.top).attr("y2", b.bottom).attr("stroke", "#f6f6f6")
      .attr("stroke-width", 1).attr("stroke-dasharray", "4,3"));
  });

  const line = d3.line().x(d => x(d[0])).y(d => y(d[1]));
  p.series.forEach(s => {
    plot.append("path").datum(s.data).attr("d", line).attr("fill", "none")
      .attr("stroke", s.color).attr("stroke-width", s.width).attr("stroke-linejoin", "round");
  });

  if (p.marker != null) {
    plot.append("line").attr("x1", x(p.marker)).attr("x2", x(p.marker))
      .attr("y1", b.top).attr("y2", b.bottom).attr("stroke", COL.blue)
      .attr("stroke-width", 1.2).attr("stroke-dasharray", "4,3");
  }

  g.append("rect").attr("x", b.left).attr("y", b.top).attr("width", b.right - b.left)
    .attr("height", b.bottom - b.top).attr("fill", "none").attr("stroke", "#4d4d4d").attr("stroke-width", 1.5);

  const xMinor = minorTicks(p.xDomain, p.xMinorStep, p.xTicks);
  const yMinor = minorTicks(p.yDomain, 0.05, p.yTicks);

  const axes = [
    [d3.axisBottom(x).tickValues(p.xTicks).tickFormat(d3.format("d")).tickPadding(7), `translate(0,${b.bottom})`, xMinor, d3.axisBottom(x)],
    [d3.axisTop(x).tickValues(p.xTicks).tickFormat(""), `translate(0,${b.top})`, xMinor, d3.axisTop(x)],
    [d3.axisLeft(y).tickValues(p.yTicks).tickFormat(d3.format(".1f")).tickPadding(6), `translate(${b.left},0)`, yMinor, d3.axisLeft(y)],
    [d3.axisRight(y).tickValues(p.yTicks).tickFormat(""), `translate(${b.right},0)`, yMinor, d3.axisRight(y)]
  ];
  axes.forEach(([major, tr, minors, minorAxis]) => {
    g.append("g").attr("transform", tr).call(minorAxis.tickValues(minors).tickSize(-10).tickFormat(""))
      .call(s => styleAxis(s, 1.2));
    g.append("g").attr("transform", tr).call(major.tickSize(-16)).call(s => styleAxis(s, 1.8));
  });

  // x label
  const xl = g.append("text").attr("x", (b.left + b.right) / 2).attr("y", p.xLabelY)
    .attr("text-anchor", "middle").attr("font-family", FONT).attr("font-size", p.xLabelSize).attr("fill", "#000");
  xl.append("tspan").text("Rest wavelength [");
  xl.append("tspan").attr("font-style", "italic").text("Å");
  xl.append("tspan").text("]");

  if (p.yLabel) {
    const cy = (b.top + b.bottom) / 2;
    const t = g.append("text").attr("transform", `translate(31,${cy}) rotate(-90)`)
      .attr("text-anchor", "middle").attr("font-family", FONT).attr("font-size", 24).attr("fill", "#000");
    t.append("tspan").text("log");
    t.append("tspan").attr("font-size", 16.5).attr("dy", 5.5).text("10");
    t.append("tspan").attr("font-style", "italic").attr("dy", -5.5).attr("dx", 3).text("F");
    t.append("tspan").attr("font-style", "italic").attr("font-size", 16.5).attr("dy", 5.5).text("λ");
    t.append("tspan").attr("dy", -5.5).text(" [erg s");
    t.append("tspan").attr("font-size", 16.5).attr("dy", -10).text("−1");
    t.append("tspan").attr("dy", 10).text(" cm");
    t.append("tspan").attr("font-size", 16.5).attr("dy", -10).text("−2");
    t.append("tspan").attr("dy", 10).text(" ");
    t.append("tspan").attr("font-style", "italic").text("Å");
    t.append("tspan").attr("font-size", 16.5).attr("dy", -10).text("−1");
    t.append("tspan").attr("dy", 10).text("]");
  }

  p.texts.forEach(tx => {
    const t = g.append("text").attr("x", x(tx.x)).attr("y", y(tx.y))
      .attr("font-family", FONT).attr("font-size", tx.size).attr("fill", tx.color || "#000");
    tx.parts.forEach(pt => t.append("tspan").attr("font-style", pt.italic ? "italic" : null).text(pt.t));
  });
}

const plain = s => [{ t: s }];

drawPanel({
  id: "top",
  box: { left: 83.5, right: 1300, top: 16, bottom: 303.5 },
  xDomain: [5812, 7459], yDomain: [5.8586, 6.6524],
  xTicks: topXTicks, yTicks: topYTicks, xMinorStep: 30,
  bands: shadeBands,
  series: [
    { data: ngcTop243, color: COL.blue, width: 1.6 },
    { data: atTop287, color: COL.orange, width: 1.6 }
  ],
  xLabelY: 358, xLabelSize: 23.5, yLabel: true,
  texts: [
    { x: 5912, y: 6.40, size: 22, parts: plain("Na ID") },
    { x: 6328, y: 6.448, size: 22, parts: plain("[O I]") },
    { x: 6614.5, y: 6.554, size: 22, parts: [{ t: "H" }, { t: "α", italic: true }] },
    { x: 7115, y: 6.49, size: 22, parts: plain("[Fe II]") },
    { x: 7067.5, y: 6.30, size: 22, parts: plain("He I") },
    { x: 7339.5, y: 6.478, size: 22, parts: plain("[Ca II]") },
    { x: 6681.5, y: 6.5125, size: 28.4, color: COL.blue, parts: plain("NGC300OT +243 d") },
    { x: 6681.5, y: 6.434, size: 28.4, color: COL.orange, parts: plain("AT2019ahd +287 d") }
  ]
});

drawPanel({
  id: "oi",
  box: { left: 83.3, right: 663.3, top: 389.3, bottom: 676 },
  xDomain: [5989.8, 6360.5], yDomain: [5.9005, 6.6017],
  xTicks: oiXTicks, yTicks: oiYTicks, xMinorStep: 20,
  series: [
    { data: oiRed123, color: COL.red, width: 2.2 },
    { data: oiPurple230, color: COL.purple, width: 1.8 },
    { data: oiBlue243, color: COL.blue, width: 1.8 }
  ],
  marker: oiMarker,
  xLabelY: 733, xLabelSize: 26, yLabel: true,
  texts: [
    { x: 6005.8, y: 6.480, size: 28.6, parts: plain("NGC300OT") },
    { x: 6027.1, y: 6.4166, size: 22.5, color: COL.red, parts: plain(epochLabels[0]) },
    { x: 6027.1, y: 6.360, size: 22.5, color: COL.purple, parts: plain(epochLabels[1]) },
    { x: 6027.1, y: 6.305, size: 22.5, color: COL.blue, parts: plain(epochLabels[2]) },
    { x: 6313.2, y: 6.417, size: 22, parts: plain("[O I]") }
  ]
});

drawPanel({
  id: "fe",
  box: { left: 720, right: 1299.3, top: 389.3, bottom: 676 },
  xDomain: [6821.25, 7198.3], yDomain: [5.95, 6.5006],
  xTicks: feXTicks, yTicks: feYTicks, xMinorStep: 20,
  series: [
    { data: feRed123, color: COL.red, width: 2.2 },
    { data: fePurple230, color: COL.purple, width: 1.8 },
    { data: feBlue243, color: COL.blue, width: 1.8 }
  ],
  marker: feMarker,
  xLabelY: 733, xLabelSize: 26, yLabel: false,
  texts: [
    { x: 6836, y: 6.416, size: 28.6, parts: plain("NGC300OT") },
    { x: 6857, y: 6.365, size: 22.5, color: COL.red, parts: plain(epochLabels[0]) },
    { x: 6857, y: 6.320, size: 22.5, color: COL.purple, parts: plain(epochLabels[1]) },
    { x: 6857, y: 6.2765, size: 22.5, color: COL.blue, parts: plain(epochLabels[2]) },
    { x: 7100.7, y: 6.4065, size: 22, parts: plain("[Fe II]") },
    { x: 7077.2, y: 6.280, size: 22, parts: plain("He I") }
  ]
});
</script>
</body>
</html>
